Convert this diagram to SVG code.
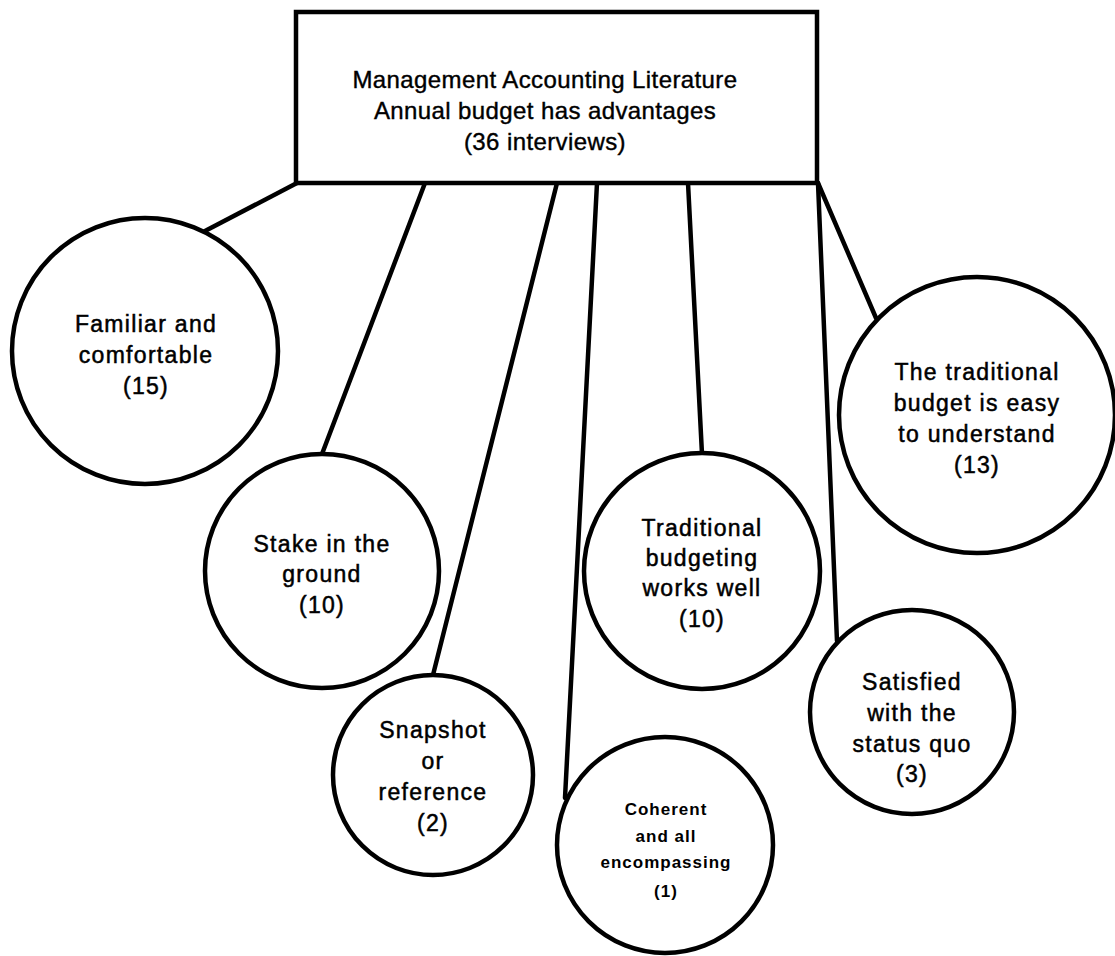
<svg xmlns="http://www.w3.org/2000/svg" width="1115" height="956" viewBox="0 0 1115 956">
  <style>
    .shape { fill: #ffffff; stroke: #000000; stroke-width: 4.5; }
    .link { stroke: #000000; stroke-width: 4.5; fill: none; stroke-linecap: round; }
    .lbl { font-family: "Liberation Sans", Arial, sans-serif; font-size: 23px; letter-spacing: 1.3px; fill: #000000; stroke: #000000; stroke-width: 0.5px; text-anchor: middle; }
    .head { font-family: "Liberation Sans", Arial, sans-serif; font-size: 24px; letter-spacing: 0.4px; fill: #000000; stroke: #000000; stroke-width: 0.4px; text-anchor: middle; }
    .small { font-family: "Liberation Sans", Arial, sans-serif; font-size: 17px; letter-spacing: 1px; font-weight: bold; fill: #000000; text-anchor: middle; }
  </style>
  <rect width="1115" height="956" fill="#ffffff"/>

  <!-- connectors from the bottom edge of the heading box -->
  <g id="connectors">
    <line class="link" x1="297" y1="183" x2="205" y2="231"/>
    <line class="link" x1="425" y1="183" x2="322" y2="454"/>
    <line class="link" x1="557" y1="183" x2="433" y2="675"/>
    <line class="link" x1="597" y1="183" x2="565" y2="798"/>
    <line class="link" x1="688" y1="183" x2="702" y2="454"/>
    <line class="link" x1="818" y1="183" x2="837" y2="641"/>
    <line class="link" x1="818" y1="183" x2="876" y2="318"/>
  </g>

  <g id="heading">
    <rect class="shape" x="296" y="12" width="521" height="171"/>
    <text class="head" x="545" y="88">Management Accounting Literature</text>
    <text class="head" x="545" y="119">Annual budget has advantages</text>
    <text class="head" x="545" y="150">(36 interviews)</text>
  </g>

  <g id="familiar">
    <circle class="shape" cx="145" cy="351" r="133"/>
    <text class="lbl" x="146" y="332">Familiar and</text>
    <text class="lbl" x="146" y="363">comfortable</text>
    <text class="lbl" x="146" y="394">(15)</text>
  </g>

  <g id="stake">
    <circle class="shape" cx="322" cy="571" r="117"/>
    <text class="lbl" x="322" y="552">Stake in the</text>
    <text class="lbl" x="322" y="582">ground</text>
    <text class="lbl" x="322" y="613">(10)</text>
  </g>

  <g id="snapshot">
    <circle class="shape" cx="433" cy="775" r="100"/>
    <text class="lbl" x="433" y="738">Snapshot</text>
    <text class="lbl" x="433" y="769">or</text>
    <text class="lbl" x="433" y="800">reference</text>
    <text class="lbl" x="433" y="831">(2)</text>
  </g>

  <g id="coherent">
    <circle class="shape" cx="665" cy="845" r="108"/>
    <text class="small" x="666" y="815">Coherent</text>
    <text class="small" x="666" y="842">and all</text>
    <text class="small" x="666" y="868">encompassing</text>
    <text class="small" x="666" y="897">(1)</text>
  </g>

  <g id="works-well">
    <circle class="shape" cx="702" cy="571" r="118"/>
    <text class="lbl" x="702" y="536">Traditional</text>
    <text class="lbl" x="702" y="566">budgeting</text>
    <text class="lbl" x="702" y="596">works well</text>
    <text class="lbl" x="702" y="627">(10)</text>
  </g>

  <g id="status-quo">
    <circle class="shape" cx="912" cy="712" r="102"/>
    <text class="lbl" x="912" y="690">Satisfied</text>
    <text class="lbl" x="912" y="721">with the</text>
    <text class="lbl" x="912" y="752">status quo</text>
    <text class="lbl" x="912" y="782">(3)</text>
  </g>

  <g id="easy">
    <circle class="shape" cx="977" cy="415" r="138"/>
    <text class="lbl" x="977" y="380">The traditional</text>
    <text class="lbl" x="977" y="411">budget is easy</text>
    <text class="lbl" x="977" y="442">to understand</text>
    <text class="lbl" x="977" y="473">(13)</text>
  </g>
</svg>
